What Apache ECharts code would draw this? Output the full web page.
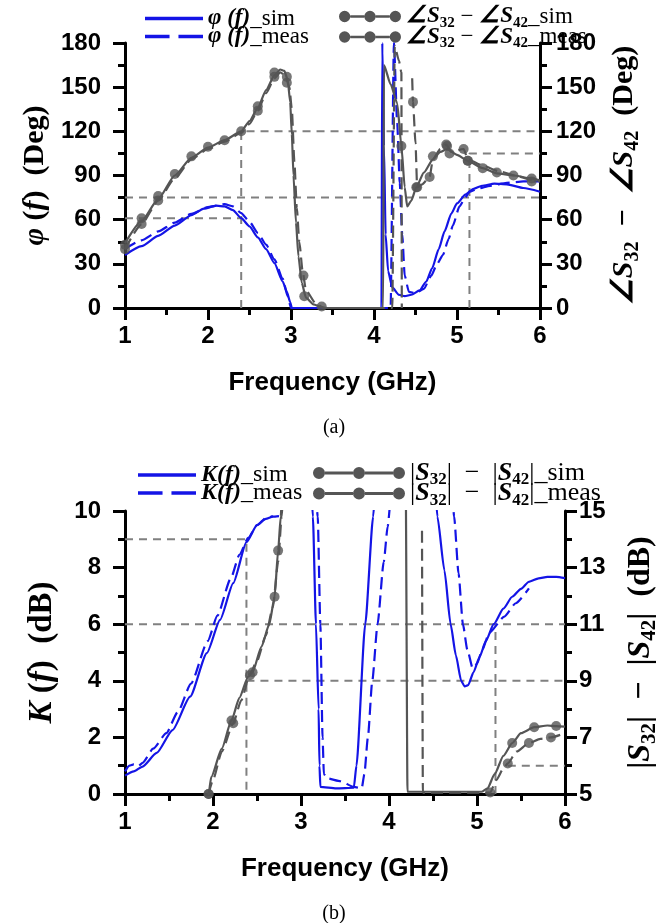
<!DOCTYPE html>
<html lang="en">
<head>
<meta charset="UTF-8">
<title>phase / amplitude difference</title>
<script src="https://cdn.jsdelivr.net/npm/echarts@6/dist/echarts.min.js"></script>
<style>
    html, body { margin: 0; padding: 0; background: #ffffff; }
    #chart { width: 668px; height: 923px; }
</style>
</head>
<body>
<div id="chart"></div>
<script>
    // ---------- (a) phase ----------
    const phiSim = [[1.0, 36], [1.2, 42], [1.4, 49], [1.6, 56], [1.8, 63], [1.95, 67.5], [2.1, 69.5], [2.2, 69], [2.3, 66.5], [2.4, 61], [2.5, 55.5], [2.6, 48], [2.7, 40], [2.8, 30.5], [2.9, 18], [2.95, 11], [2.99, 4], [3.01, 0], [3.5, 0], [4.09, 0], [4.1, 180], [4.12, 110], [4.14, 50], [4.17, 25], [4.22, 14], [4.3, 9], [4.37, 8], [4.45, 9], [4.55, 12], [4.63, 18], [4.7, 27], [4.78, 40], [4.85, 52], [4.93, 64], [5.0, 71], [5.1, 77], [5.2, 81], [5.3, 83], [5.45, 84.5], [5.6, 84], [5.8, 81.5], [6.0, 79]];
    const phiMeas = [[1.0, 40], [1.2, 46], [1.4, 52], [1.6, 58], [1.8, 64], [2.0, 68.5], [2.2, 70.5], [2.3, 69], [2.4, 64.5], [2.5, 58.5], [2.6, 51], [2.7, 43], [2.8, 33], [2.9, 20], [2.96, 8], [3.0, 0], [4.2, 0], [4.24, 180], [4.28, 125], [4.31, 85], [4.34, 50], [4.37, 22], [4.42, 11], [4.5, 10], [4.6, 13], [4.69, 22], [4.76, 30], [4.83, 36], [4.9, 47], [4.95, 56], [5.03, 69], [5.1, 75], [5.15, 79], [5.25, 81], [5.4, 83], [5.6, 85], [5.8, 86], [6.0, 86]];
    const angSim = [[1.0, 44], [1.2, 59], [1.4, 74], [1.6, 90], [1.8, 102], [2.0, 109], [2.2, 114], [2.4, 120], [2.5, 127], [2.6, 136], [2.7, 148], [2.8, 158], [2.87, 162], [2.92, 161], [2.96, 155], [2.99, 140], [3.01, 118], [3.03, 90], [3.06, 58], [3.09, 35], [3.13, 17], [3.18, 7], [3.27, 2.5], [3.37, 0.5], [3.42, 0], [4.11, 0], [4.12, 165], [4.2, 152], [4.28, 139], [4.33, 110], [4.37, 82], [4.4, 69], [4.45, 73], [4.51, 82], [4.6, 92], [4.71, 101], [4.8, 106], [4.88, 108], [5.0, 104], [5.13, 100], [5.31, 95], [5.48, 91.5], [5.68, 90], [5.9, 88], [6.0, 86.5]];
    const angMeas = [[1.0, 40], [1.2, 57], [1.4, 73], [1.6, 88], [1.8, 101], [2.0, 108], [2.2, 113], [2.4, 119], [2.5, 125], [2.6, 134], [2.7, 146], [2.8, 156], [2.87, 160], [2.93, 158], [2.98, 150], [3.01, 135], [3.04, 100], [3.07, 68], [3.1, 45], [3.14, 25], [3.18, 12], [3.3, 3], [3.4, 0], [4.22, 0], [4.25, 178], [4.3, 168], [4.33, 160], [4.335, 0], ['-', '-'], [4.46, 156], [4.47, 140], [4.5, 112], [4.52, 82], [4.58, 84], [4.67, 89], [4.71, 101], [4.8, 108], [4.87, 111], [4.93, 106], [5.08, 108], [5.13, 101], [5.3, 97], [5.5, 93], [5.7, 90], [5.9, 87], [6.0, 86]];
    const angSimDots = [[1.0, 43], [1.2, 61], [1.4, 76], [1.6, 91], [1.8, 103], [2.0, 109.5], [2.2, 114], [2.4, 120], [2.6, 137], [2.8, 160], [2.95, 157], [3.16, 8], [3.37, 1], [4.33, 110], [4.51, 82], [4.71, 103], [4.88, 110], [5.13, 100], [5.31, 95], [5.48, 92], [5.68, 90], [5.9, 88]];
    const angMeasDots = [[1.0, 40], [1.2, 57], [1.4, 73], [2.6, 134], [2.8, 157], [2.95, 153], [3.15, 22], [4.47, 140], [4.52, 82], [4.67, 89], [4.87, 111], [4.91, 105], [5.08, 108], [5.13, 100], [5.9, 86]];
    // grey guide lines (a)
    const guideA = [[1, 61], [2.4, 61], ['-', '-'], [2.4, 0], [2.4, 120], [6, 120], ['-', '-'], [1, 75], [6, 75], ['-', '-'], [5.15, 0], [5.15, 105], [6, 105]];

    // ---------- (b) amplitude ----------
    const kSim = [[1.0, 0.65], [1.1, 0.8], [1.2, 0.97], [1.36, 1.45], [1.54, 2.26], [1.74, 3.44], [1.93, 4.98], [2.08, 6.15], [2.23, 7.45], [2.38, 8.9], [2.5, 9.5], [2.6, 9.72], [2.68, 9.8], [2.75, 9.82], ['-', '-'], [3.12, 10.6], [3.135, 9.8], [3.17, 6], [3.2, 3], [3.21, 1], [3.22, 0.25], [3.4, 0.2], [3.6, 0.22], [3.63, 1], [3.73, 6], [3.82, 9.8], [3.84, 10.6], ['-', '-'], [4.53, 10.6], [4.55, 9.8], [4.63, 7.9], [4.7, 6.0], [4.76, 4.9], [4.82, 4.0], [4.86, 3.8], [4.9, 3.85], [4.96, 4.3], [5.03, 4.85], [5.1, 5.4], [5.19, 6.0], [5.3, 6.55], [5.4, 6.97], [5.5, 7.25], [5.59, 7.5], [5.7, 7.62], [5.8, 7.67], [5.9, 7.67], [6.0, 7.63]];
    const kMeas = [[1.0, 0.8], [1.05, 1.0], [1.1, 1.05], [1.15, 0.98], [1.2, 1.1], [1.32, 1.6], [1.47, 2.15], [1.6, 2.9], [1.75, 3.9], [1.94, 5.4], [2.05, 6.3], [2.2, 7.6], [2.3, 8.45], [2.4, 9.05], [2.5, 9.5], [2.6, 9.75], [2.68, 9.82], ['-', '-'], [3.17, 10.6], [3.19, 9.8], [3.22, 6], [3.245, 2], [3.26, 0.7], [3.3, 0.55], [3.45, 0.45], [3.6, 0.25], [3.69, 0.2], [3.72, 0.7], [3.76, 2], [3.81, 4], [3.87, 6], [3.94, 8.2], [3.985, 9.45], [4.02, 10.6], ['-', '-'], [4.72, 10.6], [4.74, 9.8], [4.79, 7.8], [4.84, 6.0], [4.89, 5.1], [4.95, 4.45], [5.0, 4.6], [5.06, 5.1], [5.14, 5.7], [5.31, 6.27], [5.44, 6.74], [5.59, 7.27]];
    const sSim = [[1.93, 4.5], [1.95, 5.0], [1.98, 5.6], [2.1, 6.6], [2.21, 7.6], [2.3, 8.4], [2.4, 9.15], [2.45, 9.3], [2.55, 10.2], [2.64, 11.0], [2.7, 11.97], [2.74, 13.6], [2.77, 14.8], [2.79, 16], [4.19, 16], [4.21, 5.08], [4.6, 5.08], [5.05, 5.08], [5.12, 5.2], [5.2, 5.7], [5.3, 6.35], [5.4, 6.8], [5.5, 7.15], [5.65, 7.36], [5.8, 7.42], [5.9, 7.4], [6.0, 7.38]];
    const sMeas = [[1.95, 5.0], [2.0, 5.5], [2.1, 6.5], [2.23, 7.5], [2.32, 8.3], [2.42, 9.25], [2.5, 9.7], [2.6, 10.6], [2.68, 11.6], [2.74, 13.2], [2.78, 14.8], [2.8, 16], ['-', '-'], [4.375, 14.3], [4.385, 5.05], [5.15, 5.05], [5.22, 5.5], [5.3, 5.9], [5.35, 6.08], [5.45, 6.5], [5.59, 6.8], [5.72, 6.95], [5.84, 7.0], [6.0, 7.15]];
    const sSimDots = [[1.95, 5.0], [2.21, 7.6], [2.45, 9.3], [2.7, 11.97], [2.74, 13.6], [5.4, 6.8], [5.65, 7.36], [5.9, 7.4]];
    const sMeasDots = [[1.95, 5.0], [2.23, 7.5], [2.42, 9.2], [5.15, 5.05], [5.35, 6.08], [5.59, 6.8], [5.84, 7.0]];
    // grey guide lines (b), left axis units
    const guideB = [[1, 9], [2.38, 9], [2.38, 0], ['-', '-'], [1, 6], [6, 6], ['-', '-'], [2.38, 4], [6, 4], ['-', '-'], [5.21, 0], [5.21, 6], ['-', '-'], [5.35, 1], [6, 1]];

    const BLUE = '#1414e6';
    const GREY = '#555555';
    const GUIDE = '#808080';
    const SANS = 'Liberation Sans, Arial, sans-serif';
    const SERIF = 'Liberation Serif, Times New Roman, serif';

    // legend icons
    const solidIcon = 'path://M0,0h52v3h-52z';
    const dashIcon = 'path://M0,0h22v3h-22z M30,0h22v3h-22z';
    const dotsIcon = 'path://M0,6a6,6 0 1 0 12 0a6,6 0 1 0 -12 0z M27,6a6,6 0 1 0 12 0a6,6 0 1 0 -12 0z M54,6a6,6 0 1 0 12 0a6,6 0 1 0 -12 0z M12,4.6h15v2.8h-15z M39,4.6h15v2.8h-15z';
    const dotsWideIcon = 'path://M0,6a6,6 0 1 0 12 0a6,6 0 1 0 -12 0z M40,6a6,6 0 1 0 12 0a6,6 0 1 0 -12 0z M80,6a6,6 0 1 0 12 0a6,6 0 1 0 -12 0z M12,4.5h28v3h-28z M52,4.5h28v3h-28z';

    function richSet(size) {
        return {
            b: {fontFamily: SERIF, fontWeight: 'bold', fontSize: size, color: '#000'},
            bi: {fontFamily: SERIF, fontWeight: 'bold', fontStyle: 'italic', fontSize: size, color: '#000'},
            n: {fontFamily: SERIF, fontSize: size, color: '#000'},
            sub: {fontFamily: SERIF, fontWeight: 'bold', fontSize: Math.round(size * 0.65), color: '#000',
                padding: [Math.round(size * 0.55), 0, 0, 0], verticalAlign: 'bottom'}
        };
    }

    const legendText = {
        phiSim: '{bi|φ (f)}{n|_sim}',
        phiMeas: '{bi|φ (f)}{n|_meas}',
        angSim: '{bi|∠S}{sub|32}{n| − }{bi|∠S}{sub|42}{n|_sim}',
        angMeas: '{bi|∠S}{sub|32}{n| − }{bi|∠S}{sub|42}{n|_meas}',
        kSim: '{bi|K(f)}{n|_sim}',
        kMeas: '{bi|K(f)}{n|_meas}',
        sSim: '{n||}{bi|S}{sub|32}{n||  −  |}{bi|S}{sub|42}{n||_sim}',
        sMeas: '{n||}{bi|S}{sub|32}{n||  −  |}{bi|S}{sub|42}{n||_meas}'
    };

    function legend(names, icons, left, top, itemWidth, size) {
        return {
            data: names.map((n, i) => ({name: n, icon: icons[i]})),
            left: left, top: top, orient: 'vertical',
            itemWidth: itemWidth, itemHeight: 14, itemGap: 18 - size,
            selectedMode: false,
            formatter: name => legendText[name],
            textStyle: {fontFamily: SERIF, fontSize: size, color: '#000', rich: richSet(size)}
        };
    }

    function xAxis(grid) {
        return {
            gridIndex: grid, type: 'value', min: 1, max: 6, interval: 1,
            axisLine: {onZero: false, lineStyle: {color: '#000', width: 3}},
            axisTick: {length: 12, lineStyle: {color: '#000', width: 3}},
            minorTick: {show: true, splitNumber: 2, length: 7, lineStyle: {color: '#000', width: 3}},
            splitLine: {show: false},
            axisLabel: {fontFamily: SANS, fontWeight: 'bold', fontSize: 24, color: '#000', margin: 16},
            name: 'Frequency (GHz)', nameLocation: 'middle', nameGap: 62,
            nameTextStyle: {fontFamily: SANS, fontWeight: 'bold', fontSize: 26, color: '#000'}
        };
    }

    function yAxis(grid, pos, min, max, step, name, gap, size, margin) {
        return {
            gridIndex: grid, type: 'value', position: pos, min: min, max: max, interval: step,
            axisLine: {show: true, onZero: false, lineStyle: {color: '#000', width: 3}},
            axisTick: {show: true, length: 12, lineStyle: {color: '#000', width: 3}},
            minorTick: {show: true, splitNumber: 2, length: 7, lineStyle: {color: '#000', width: 3}},
            splitLine: {show: false},
            axisLabel: {fontFamily: SANS, fontWeight: 'bold', fontSize: 24, color: '#000', margin: margin},
            name: name, nameLocation: 'middle', nameRotate: 90, nameGap: gap,
            nameTextStyle: {rich: richSet(size)}
        };
    }

    function line(name, data, color, dashed, xi, yi) {
        return {
            name: name, type: 'line', data: data, xAxisIndex: xi, yAxisIndex: yi,
            color: color, symbol: 'none', smooth: 0.2, smoothMonotone: 'x',
            lineStyle: {width: 2.2, type: dashed ? [12, 6] : 'solid'}
        };
    }

    function dots(name, data, xi, yi) {
        return {
            name: name, type: 'scatter', data: data, xAxisIndex: xi, yAxisIndex: yi,
            symbolSize: 10, itemStyle: {color: GREY}, z: 3
        };
    }

    function guide(name, data, xi, yi) {
        return {
            name: name, type: 'line', data: data, xAxisIndex: xi, yAxisIndex: yi,
            symbol: 'none', color: GUIDE, z: 1,
            lineStyle: {width: 2, type: [8, 6]}
        };
    }

    const myChart = echarts.init(document.getElementById('chart'), null, {renderer: 'canvas'});

    const option = {
        animation: false,
        title: [
            {text: '(a)', left: 'center', top: 413, textStyle: {fontFamily: SERIF, fontWeight: 'normal', fontSize: 20, color: '#000'}},
            {text: '(b)', left: 'center', top: 899, textStyle: {fontFamily: SERIF, fontWeight: 'normal', fontSize: 20, color: '#000'}}
        ],
        legend: [
            legend(['phiSim', 'phiMeas'], [solidIcon, dashIcon], 140, 2, 58, 23),
            legend(['angSim', 'angMeas'], [dotsIcon, dotsIcon], 334, 0, 62, 23),
            legend(['kSim', 'kMeas'], [solidIcon, dashIcon], 133, 458, 58, 24),
            legend(['sSim', 'sMeas'], [dotsWideIcon, dotsWideIcon], 308, 455, 92, 26)
        ],
        grid: [
            {left: 125, top: 43, width: 415, height: 265},
            {left: 125, top: 511, width: 441, height: 283}
        ],
        xAxis: [xAxis(0), xAxis(1)],
        yAxis: [
            yAxis(0, 'left', 0, 180, 30, '{bi|φ }{b|(}{bi|f}{b|)  (Deg)}', 58, 30, 24),
            yAxis(0, 'right', 0, 180, 30, '{bi|∠S}{sub|32}{b|  −  }{bi|∠S}{sub|42}{b|  (Deg)}', 66, 30, 16),
            yAxis(1, 'left', 0, 10, 2, '{bi|K }{b|(}{bi|f}{b|)  (dB)}', 66, 33, 24),
            yAxis(1, 'right', 5, 15, 2, '{b||}{bi|S}{sub|32}{b||  −  |}{bi|S}{sub|42}{b||  (dB)}', 56, 32, 14)
        ],
        series: [
            guide('guideA', guideA, 0, 0),
            line('phiSim', phiSim, BLUE, false, 0, 0),
            line('phiMeas', phiMeas, BLUE, true, 0, 0),
            line('angSim', angSim, GREY, false, 0, 1),
            line('angMeas', angMeas, GREY, true, 0, 1),
            dots('angSimDots', angSimDots, 0, 1),
            dots('angMeasDots', angMeasDots, 0, 1),

            guide('guideB', guideB, 1, 2),
            line('kSim', kSim, BLUE, false, 1, 2),
            line('kMeas', kMeas, BLUE, true, 1, 2),
            line('sSim', sSim, GREY, false, 1, 3),
            line('sMeas', sMeas, GREY, true, 1, 3),
            dots('sSimDots', sSimDots, 1, 3),
            dots('sMeasDots', sMeasDots, 1, 3)
        ]
    };

    myChart.setOption(option);
</script>
</body>
</html>
